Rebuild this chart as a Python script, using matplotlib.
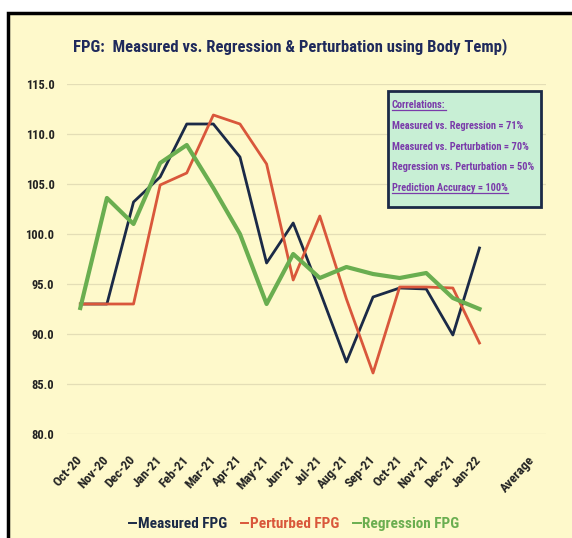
import matplotlib
matplotlib.use("Agg")
import matplotlib.pyplot as plt
from matplotlib import font_manager
from matplotlib.patches import Rectangle
from matplotlib.lines import Line2D

# ---------------- data ----------------
categories = ['Oct-20', 'Nov-20', 'Dec-20', 'Jan-21', 'Feb-21', 'Mar-21', 'Apr-21',
              'May-21', 'Jun-21', 'Jul-21', 'Aug-21', 'Sep-21', 'Oct-21', 'Nov-21',
              'Dec-21', 'Jan-22', '', 'Average']
measured = [93.0, 93.0, 103.2, 105.7, 111.0, 111.0, 107.7, 97.1, 101.1, 94.3,
            87.2, 93.7, 94.6, 94.5, 89.9, 98.6]
perturbed = [93.0, 93.0, 93.0, 104.9, 106.1, 111.9, 111.0, 107.0, 95.4, 101.8,
             93.5, 86.1, 94.7, 94.7, 94.6, 89.1]
regression = [92.6, 103.6, 101.0, 107.1, 108.9, 104.6, 100.0, 93.0, 98.0, 95.6,
              96.7, 96.0, 95.6, 96.1, 93.6, 92.5]
series_names = ['Measured FPG', 'Perturbed FPG', 'Regression FPG']
yticks = [80, 85, 90, 95, 100, 105, 110, 115]
title = 'FPG:  Measured vs. Regression & Perturbation using Body Temp)'
box_lines = ['Correlations:',
             'Measured vs. Regression = 71%',
             'Measured vs. Perturbation = 70%',
             'Regression vs. Perturbation = 50%',
             'Prediction Accuracy = 100%']
box_underlined = [True, False, False, False, True]

# ---------------- style ----------------
available = {f.name for f in font_manager.fontManager.ttflist}
FONT = 'Lato'
for cand in ['Liberation Sans Narrow', 'Roboto Condensed', 'Lato']:
    if cand in available:
        FONT = cand
        break
plt.rcParams['font.family'] = [FONT, 'DejaVu Sans']

BG = '#FEF9CB'
NAVY = '#1B2A47'
RED = '#D9573B'
GREEN = '#6AAE50'
PURPLE = '#7A3BAA'
TITLE_C = '#1F2A5C'
GRID = '#E4DEB6'

W, H = 572, 538
fig = plt.figure(figsize=(W / 100, H / 100), dpi=100)
fig.patch.set_facecolor('white')

# outer chart area (cropped frame)
fig.patches.append(Rectangle((8 / W, -0.05), 1.2, 1 - 13 / H + 0.05,
                             transform=fig.transFigure, facecolor=BG,
                             edgecolor='black', linewidth=2.5, zorder=-5))

ax = fig.add_axes([67 / W, 1 - 434 / H, (546 - 67) / W, (434 - 84) / H])
ax.set_facecolor('none')
ax.set_zorder(2)
for s in ax.spines.values():
    s.set_visible(False)

x = list(range(len(categories)))
ax.plot(x[:len(measured)], measured, color=NAVY, lw=2.0, label=series_names[0], zorder=3)
ax.plot(x[:len(perturbed)], perturbed, color=RED, lw=2.0, label=series_names[1], zorder=4)
ax.plot(x[:len(regression)], regression, color=GREEN, lw=3.0, label=series_names[2], zorder=5)

ax.set_xlim(-0.5, len(categories) - 0.5)
ax.set_ylim(80, 115)
ax.set_yticks(yticks)
ax.set_yticklabels([f'{v:.1f}' for v in yticks], fontsize=9, fontweight='bold', color='#222222')
ax.yaxis.grid(True, color=GRID, lw=0.9)
ax.set_axisbelow(True)
ax.tick_params(axis='y', length=0, pad=9)
ax.set_xticks(x)
ax.set_xticklabels(categories, rotation=48, ha='right', va='center',
                   rotation_mode='anchor', fontsize=9.5, fontweight='bold', color='#222222')
ax.tick_params(axis='x', length=0, pad=17)

# title
fig.text(290 / W, 1 - 47 / H, title, ha='center', va='center', fontsize=12,
         fontweight='bold', color=TITLE_C, zorder=3)

# legend
leg = fig.legend(loc='center', bbox_to_anchor=(294 / W, 1 - 524 / H), ncol=3,
                 frameon=False, handlelength=0.5, handletextpad=0.1,
                 columnspacing=0.9, labelcolor='linecolor',
                 prop={'size': 11, 'weight': 'bold'})
for h in leg.legend_handles:
    h.set_linewidth(1.4)

# correlation box
box = Rectangle((388 / W, 1 - 207 / H), 153 / W, 116 / H,
                transform=fig.transFigure, facecolor='#C8EFD5',
                edgecolor=NAVY, linewidth=2.0, zorder=6)
fig.patches.append(box)
line_y = [105, 126, 147, 167, 188]
texts = []
for t, yy in zip(box_lines, line_y):
    texts.append(fig.text(392 / W, 1 - yy / H, t, ha='left', va='center', fontsize=7.5,
                          fontweight='bold', color=PURPLE, zorder=7))

fig.canvas.draw()
r = fig.canvas.get_renderer()
for t, u in zip(texts, box_underlined):
    if u:
        bb = t.get_window_extent(r)
        yline = (bb.y0 + 0.5) / H
        fig.lines.append(Line2D([bb.x0 / W, bb.x1 / W], [yline, yline],
                                transform=fig.transFigure, color=PURPLE, lw=0.9, zorder=8))

fig.savefig('out.png', dpi=100, facecolor=fig.get_facecolor())
